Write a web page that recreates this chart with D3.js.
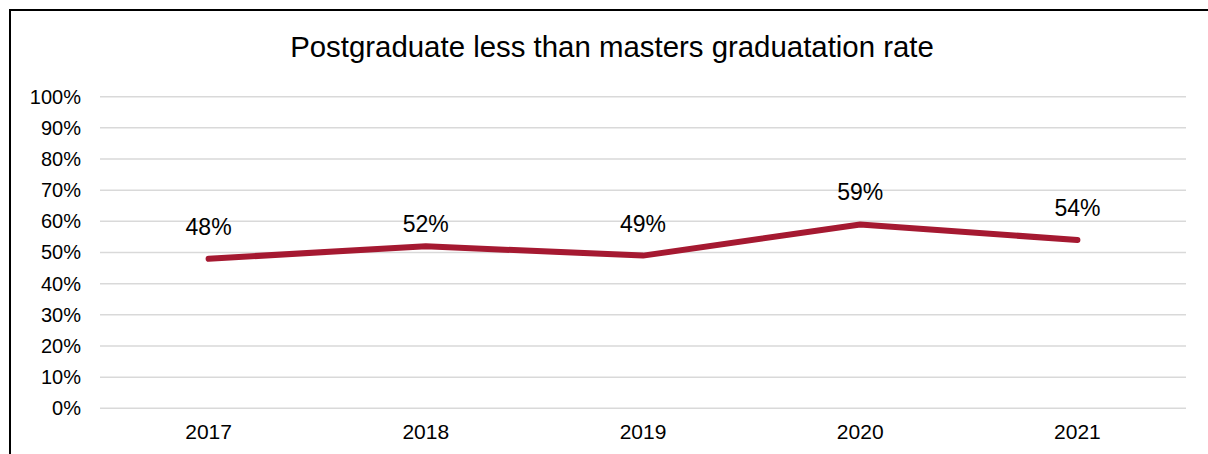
<!DOCTYPE html>
<html>
<head>
<meta charset="utf-8">
<script src="https://cdn.jsdelivr.net/npm/d3@7"></script>
<style>
  html, body { margin: 0; padding: 0; background: #fff; }
  svg { display: block; font-family: "Liberation Sans", Arial, sans-serif; }
</style>
</head>
<body>
<svg id="chart" width="1208" height="454"></svg>
<script>
// Graduation rate for postgraduate (less than masters) students
const years = ["2017", "2018", "2019", "2020", "2021"];
const rates = [48, 52, 49, 59, 54];
const yTicks = [0, 10, 20, 30, 40, 50, 60, 70, 80, 90, 100];
const title = "Postgraduate less than masters graduatation rate";

const svg = d3.select("#chart");
const W = 1208, H = 454;
const plot = { left: 100, right: 1186, top: 96.7, bottom: 408.3 };

// Outer frame (left and top edges visible; the rest runs off the canvas)
svg.append("rect")
  .attr("x", 10).attr("y", 10)
  .attr("width", W + 20).attr("height", H + 20)
  .attr("fill", "none").attr("stroke", "#000").attr("stroke-width", 2);

// Title
svg.append("text")
  .attr("x", 612).attr("y", 57)
  .attr("text-anchor", "middle")
  .attr("font-size", 29.4)
  .attr("fill", "#000")
  .text(title);

const x = d3.scaleBand().domain(years).range([plot.left, plot.right]).padding(0);
const y = d3.scaleLinear().domain([0, 100]).range([plot.bottom, plot.top]);

// Horizontal gridlines
svg.append("g")
  .selectAll("line")
  .data(yTicks)
  .join("line")
  .attr("x1", plot.left).attr("x2", plot.right)
  .attr("y1", d => y(d)).attr("y2", d => y(d))
  .attr("stroke", "#d9d9d9").attr("stroke-width", 1.5);

// Y axis labels
const yAxis = d3.axisLeft(y).tickValues(yTicks).tickFormat(d => d + "%").tickSize(0).tickPadding(0);
const gy = svg.append("g").attr("transform", `translate(81,0)`).call(yAxis);
gy.select(".domain").remove();
gy.selectAll("text").attr("font-size", 20).attr("fill", "#000")
  .attr("font-family", "'Liberation Sans', Arial, sans-serif");

// X axis labels
const xAxis = d3.axisBottom(x).tickSize(0).tickPadding(0);
const gx = svg.append("g").attr("transform", `translate(0,424)`).call(xAxis);
gx.select(".domain").remove();
gx.selectAll("text").attr("font-size", 21).attr("fill", "#000")
  .attr("font-family", "'Liberation Sans', Arial, sans-serif");

const cx = d => x(d) + x.bandwidth() / 2;

// Rate line
const line = d3.line().x((d, i) => cx(years[i])).y(d => y(d));
svg.append("path")
  .datum(rates)
  .attr("d", line)
  .attr("fill", "none")
  .attr("stroke", "#A51931")
  .attr("stroke-width", 6)
  .attr("stroke-linecap", "round")
  .attr("stroke-linejoin", "round");

// Value labels above each point (2018 label sits closer to the line)
const labelLift = i => (i === 1 ? 14 : 24);
svg.append("g")
  .selectAll("text")
  .data(rates)
  .join("text")
  .attr("x", (d, i) => cx(years[i]))
  .attr("y", (d, i) => y(d) - labelLift(i))
  .attr("text-anchor", "middle")
  .attr("font-size", 23)
  .attr("fill", "#000")
  .text(d => d + "%");
</script>
</body>
</html>
